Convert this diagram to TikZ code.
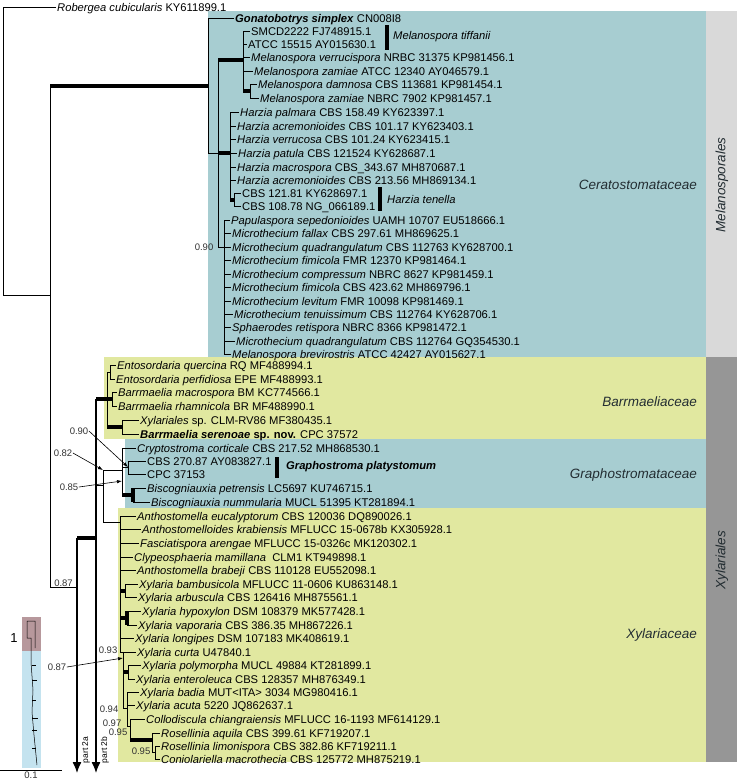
\documentclass[tikz,border=0pt]{standalone}
\usepackage{fontspec}
\setmainfont{Liberation Sans}
\usepackage{xcolor}
\usepackage{tikz}
\usetikzlibrary{arrows.meta, positioning, calc}

\definecolor{cerabox}{RGB}{167,205,209}
\definecolor{xylbox}{RGB}{225,232,160}
\definecolor{melgray}{RGB}{217,217,217}
\definecolor{xylgray}{RGB}{150,150,150}
\definecolor{famtext}{RGB}{35,45,50}
\definecolor{insetred}{RGB}{183,152,156}
\definecolor{insetblue}{RGB}{196,227,239}

\begin{document}
\begin{tikzpicture}[
  x=1pt, y=-1pt,
  >=Latex,
  tip/.style={anchor=west, inner sep=1pt, text height=8pt, text depth=0pt, font=\fontsize{11.2}{13}\selectfont},
  fam/.style={anchor=east, inner sep=0pt, text=famtext, font=\fontsize{13.5}{15}\selectfont\itshape},
  ord/.style={rotate=90, inner sep=0pt, text=famtext, font=\fontsize{13.5}{15}\selectfont\itshape},
  barlab/.style={anchor=west, inner sep=0pt, font=\fontsize{11.2}{13}\selectfont\itshape},
  supp/.style={inner sep=0.5pt, text=black!80, font=\fontsize{9.5}{11}\selectfont},
  partlab/.style={rotate=90, inner sep=0pt, font=\fontsize{8.5}{10}\selectfont},
  br/.style={line width=0.8pt},
  thk/.style={line width=3.8pt},
  cladebar/.style={line width=4pt},
  pointer/.style={-{Latex[length=5pt,width=3.5pt]}, line width=0.6pt},
  cont/.style={-{Latex[length=11pt,width=9pt]}, line width=1.3pt}
]
\useasboundingbox (0,0) rectangle (737,780);

\fill[cerabox] (208,11) rectangle (706,357);
\fill[melgray] (706,11) rectangle (737,357);
\fill[xylbox] (104,357) rectangle (706,439);
\fill[cerabox] (125,439) rectangle (706,508);
\fill[xylbox] (118,508) rectangle (706,762);
\fill[xylgray] (706,357) rectangle (737,762);

\node[fam] (ceratost) at (697,185) {Ceratostomataceae};
\node[fam] (barrmael) at (697,402) {Barrmaeliaceae};
\node[fam] (graphost) at (697,475) {Graphostromataceae};
\node[fam] (xylariac) at (697,635) {Xylariaceae};
\node[ord] (melanosp) at (722,185) {Melanosporales};
\node[ord] (xylarial) at (722,560) {Xylariales};

\node[tip] (robe) at (56,7) {\textit{Robergea cubicularis} KY611899.1};

\node[tip] (gona) at (234,18) {\textbf{\textit{Gonatobotrys simplex}} CN008I8};
\node[tip] (mtif1) at (250,31) {SMCD2222 FJ748915.1};
\node[tip] (mtif2) at (247,44) {ATCC 15515 AY015630.1};
\node[tip] (mverr) at (250,57) {\textit{Melanospora verrucispora} NRBC 31375 KP981456.1};
\node[tip] (mzam1) at (253,71) {\textit{Melanospora zamiae} ATCC 12340 AY046579.1};
\node[tip] (mdamn) at (257,84) {\textit{Melanospora damnosa} CBS 113681 KP981454.1};
\node[tip] (mzam2) at (259,98) {\textit{Melanospora zamiae} NBRC 7902 KP981457.1};
\node[tip] (hpalm) at (239,112) {\textit{Harzia palmara} CBS 158.49 KY623397.1};
\node[tip] (hacr1) at (236,126) {\textit{Harzia acremonioides} CBS 101.17 KY623403.1};
\node[tip] (hverr) at (236,139) {\textit{Harzia verrucosa} CBS 101.24 KY623415.1};
\node[tip] (hpatu) at (237,153) {\textit{Harzia patula} CBS 121524 KY628687.1};
\node[tip] (hmacr) at (236,167) {\textit{Harzia macrospora} CBS\_343.67 MH870687.1};
\node[tip] (hacr2) at (236,180) {\textit{Harzia acremonioides} CBS 213.56 MH869134.1};
\node[tip] (hten1) at (241,193) {CBS 121.81 KY628697.1};
\node[tip] (hten2) at (241,206) {CBS 108.78 NG\_066189.1};
\node[tip] (papu) at (230,220) {\textit{Papulaspora sepedonioides} UAMH 10707 EU518666.1};
\node[tip] (mfall) at (231,233) {\textit{Microthecium fallax} CBS 297.61 MH869625.1};
\node[tip] (mquad1) at (231,247) {\textit{Microthecium quadrangulatum} CBS 112763 KY628700.1};
\node[tip] (mfim1) at (231,260) {\textit{Microthecium fimicola} FMR 12370 KP981464.1};
\node[tip] (mcomp) at (231,274) {\textit{Microthecium compressum} NBRC 8627 KP981459.1};
\node[tip] (mfim2) at (231,287) {\textit{Microthecium fimicola} CBS 423.62 MH869796.1};
\node[tip] (mlevi) at (231,301) {\textit{Microthecium levitum} FMR 10098 KP981469.1};
\node[tip] (mtenu) at (233,314) {\textit{Microthecium tenuissimum} CBS 112764 KY628706.1};
\node[tip] (sreti) at (231,327) {\textit{Sphaerodes retispora} NBRC 8366 KP981472.1};
\node[tip] (mquad2) at (235,341) {\textit{Microthecium quadrangulatum} CBS 112764 GQ354530.1};
\node[tip] (mbrev) at (231,354) {\textit{Melanospora brevirostris} ATCC 42427 AY015627.1};

\node[tip] (equer) at (116,365) {\textit{Entosordaria quercina} RQ MF488994.1};
\node[tip] (eperf) at (115,379) {\textit{Entosordaria perfidiosa} EPE MF488993.1};
\node[tip] (bmacr) at (117,392) {\textit{Barrmaelia macrospora} BM KC774566.1};
\node[tip] (brham) at (117,406) {\textit{Barrmaelia rhamnicola} BR MF488990.1};
\node[tip] (xysp) at (139,420) {\textit{Xylariales} sp. CLM-RV86 MF380435.1};
\node[tip] (bsere) at (139,434) {\textbf{\textit{Barrmaelia serenoae} sp. nov.} CPC 37572};
\node[tip] (ccort) at (136,448) {\textit{Cryptostroma corticale} CBS 217.52 MH868530.1};
\node[tip] (gpla1) at (146,461) {CBS 270.87 AY083827.1};
\node[tip] (gpla2) at (146,474) {CPC 37153};
\node[tip] (bpetr) at (146,488) {\textit{Biscogniauxia petrensis} LC5697 KU746715.1};
\node[tip] (bnumm) at (150,502) {\textit{Biscogniauxia nummularia} MUCL 51395 KT281894.1};
\node[tip] (aeuca) at (136,516) {\textit{Anthostomella eucalyptorum} CBS 120036 DQ890026.1};
\node[tip] (akrab) at (141,529) {\textit{Anthostomelloides krabiensis} MFLUCC 15-0678b KX305928.1};
\node[tip] (faren) at (139,543) {\textit{Fasciatispora arengae} MFLUCC 15-0326c MK120302.1};
\node[tip] (cmami) at (133,557) {\textit{Clypeosphaeria mamillana}\ \ CLM1 KT949898.1};
\node[tip] (abrab) at (136,570) {\textit{Anthostomella brabeji} CBS 110128 EU552098.1};
\node[tip] (xbamb) at (138,584) {\textit{Xylaria bambusicola} MFLUCC 11-0606 KU863148.1};
\node[tip] (xarbu) at (137,597) {\textit{Xylaria arbuscula} CBS 126416 MH875561.1};
\node[tip] (xhypo) at (141,611) {\textit{Xylaria hypoxylon} DSM 108379 MK577428.1};
\node[tip] (xvapo) at (137,625) {\textit{Xylaria vaporaria} CBS 386.35 MH867226.1};
\node[tip] (xlong) at (134,638) {\textit{Xylaria longipes} DSM 107183 MK408619.1};
\node[tip] (xcurt) at (136,652) {\textit{Xylaria curta} U47840.1};
\node[tip] (xpoly) at (141,665) {\textit{Xylaria polymorpha} MUCL 49884 KT281899.1};
\node[tip] (xente) at (135,679) {\textit{Xylaria enteroleuca} CBS 128357 MH876349.1};
\node[tip] (xbadi) at (139,692) {\textit{Xylaria badia} MUT<ITA> 3034 MG980416.1};
\node[tip] (xacut) at (135,705) {\textit{Xylaria acuta} 5220 JQ862637.1};
\node[tip] (cchia) at (145,719) {\textit{Collodiscula chiangraiensis} MFLUCC 16-1193 MF614129.1};
\node[tip] (raqui) at (160,733) {\textit{Rosellinia aquila} CBS 399.61 KF719207.1};
\node[tip] (rlimo) at (160,746) {\textit{Rosellinia limonispora} CBS 382.86 KF719211.1};
\node[tip] (cmacr) at (160,759) {\textit{Coniolariella macrothecia} CBS 125772 MH875219.1};

\coordinate (tiftop) at (387,25);
\coordinate (tifmid) at (387,37);
\coordinate (tifbot) at (387,50);
\draw[cladebar] (tiftop) -- (tifbot);
\node[barlab, right=6pt of tifmid] (tiflab) {Melanospora tiffanii};
\coordinate (tentop) at (380,187);
\coordinate (tenmid) at (380,199);
\coordinate (tenbot) at (380,211);
\draw[cladebar] (tentop) -- (tenbot);
\node[barlab, right=7pt of tenmid] (tenlab) {Harzia tenella};
\coordinate (plattop) at (277,457);
\coordinate (platmid) at (277,467);
\coordinate (platbot) at (277,478);
\draw[cladebar] (plattop) -- (platbot);
\node[barlab, right=9pt of platmid, font=\fontsize{11.2}{13}\selectfont\bfseries\itshape] (platlab) {Graphostroma platystomum};

\coordinate (root) at (3,295);
\coordinate (ingr) at (50,295);
\coordinate (cer) at (208,86);
\coordinate (x0) at (77,587);
\draw[br] (robe.west) -| (root) -- (ingr);
\draw[br] (ingr |- cer) -- (ingr |- x0) -- (x0) node[midway, above, supp] (s087a) {0.87};
\draw[thk] (ingr |- cer) -- (cer);

\coordinate (n1) at (218,153);
\coordinate (mel) at (243,60);
\coordinate (md) at (250,91);
\coordinate (har) at (230,153);
\coordinate (ht) at (234,200);
\coordinate (mic) at (224,247);
\draw[br] (gona.west) -| (cer |- n1) -- (n1);
\draw[br] (n1 |- mel) -- (n1 |- mic) -- (mic);
\node[supp, anchor=east] (s090a) at (214,247) {0.90};
\draw[thk] (n1 |- mel) -- (mel);
\draw[thk] (n1) -- (har);
\draw[br] (mel |- mtif1.west) -- (mel |- md);
\foreach \tp in {mtif1, mtif2, mverr, mzam1} \draw[br] (mel |- \tp.west) -- (\tp.west);
\draw[thk] (mel |- md) -- (md);
\draw[br] (md |- mdamn.west) -- (md |- mzam2.west);
\foreach \tp in {mdamn, mzam2} \draw[br] (md |- \tp.west) -- (\tp.west);
\draw[br] (har |- hpalm.west) -- (har |- ht);
\foreach \tp in {hpalm, hacr1, hverr, hpatu, hmacr, hacr2} \draw[br] (har |- \tp.west) -- (\tp.west);
\draw[thk] (har |- ht) -- (ht);
\draw[br] (ht |- hten1.west) -- (ht |- hten2.west);
\foreach \tp in {hten1, hten2} \draw[br] (ht |- \tp.west) -- (\tp.west);
\draw[br] (mic |- papu.west) -- (mic |- mbrev.west);
\foreach \tp in {papu, mfall, mquad1, mfim1, mcomp, mfim2, mlevi, mtenu, sreti, mquad2, mbrev} \draw[br] (mic |- \tp.west) -- (\tp.west);

\coordinate (x1) at (96,538);
\coordinate (p2a) at (77,773);
\coordinate (p2b) at (96,773);
\coordinate (barr) at (107,399);
\coordinate (ent) at (110,372);
\coordinate (bm) at (112,399);
\coordinate (ser) at (122,427);
\coordinate (gx) at (103,485);
\coordinate (gr) at (122,470);
\coordinate (cc) at (128,467);
\coordinate (bis) at (133,495);
\coordinate (xy) at (120,522);
\coordinate (bx) at (125,591);
\coordinate (hx) at (127,618);
\coordinate (n93) at (123,652);
\coordinate (px) at (128,672);
\coordinate (n94) at (127,708);
\coordinate (n97) at (130,726);
\coordinate (ros) at (152,740);
\coordinate (rb) at (155,752);

\draw[cont] (x0 |- x1) -- (p2a);
\draw[thk] (x0 |- x1) -- (x1);
\draw[cont] (x1 |- barr) -- (p2b);
\draw[thk] (x1 |- barr) -- (bm);
\draw[br] (barr |- ent) -- (barr |- ser);
\draw[br] (barr |- ent) -- (ent);
\draw[thk] (barr |- ser) -- (ser);
\draw[br] (ent |- equer.west) -- (ent |- eperf.west);
\foreach \tp in {equer, eperf} \draw[br] (ent |- \tp.west) -- (\tp.west);
\draw[br] (bm |- bmacr.west) -- (bm |- brham.west);
\foreach \tp in {bmacr, brham} \draw[br] (bm |- \tp.west) -- (\tp.west);
\draw[br] (ser |- xysp.west) -- (ser |- bsere.west);
\foreach \tp in {xysp, bsere} \draw[br] (ser |- \tp.west) -- (\tp.west);

\draw[br] (x1 |- gx) -- (gx);
\draw[br] (gx |- gr) -- (gx |- xy) -- (xy);
\draw[br] (gx |- gr) -- (gr);
\draw[br] (gr |- ccort.west) -- (gr |- bis);
\draw[br] (gr |- ccort.west) -- (ccort.west);
\draw[br] (gr |- cc) -- (cc);
\draw[thk] (gr |- bis) -- (bis);
\draw[br] (cc |- gpla1.west) -- (cc |- gpla2.west);
\foreach \tp in {gpla1, gpla2} \draw[br] (cc |- \tp.west) -- (\tp.west);
\draw[thk] (bis |- bpetr.west) -- (bis |- bnumm.west);
\foreach \tp in {bpetr, bnumm} \draw[br] (bis |- \tp.west) -- (\tp.west);

\draw[br] (xy |- aeuca.west) -- (xy |- n93) -- (n93);
\foreach \tp in {aeuca, akrab, faren, cmami, abrab, xlong} \draw[br] (xy |- \tp.west) -- (\tp.west);
\draw[thk] (xy |- bx) -- (bx);
\draw[br] (bx |- xbamb.west) -- (bx |- xarbu.west);
\foreach \tp in {xbamb, xarbu} \draw[br] (bx |- \tp.west) -- (\tp.west);
\draw[thk] (xy |- hx) -- (hx);
\draw[thk] (hx |- xhypo.west) -- (hx |- xvapo.west);
\foreach \tp in {xhypo, xvapo} \draw[br] (hx |- \tp.west) -- (\tp.west);
\node[supp, anchor=east] (s093) at (118,650) {0.93};
\draw[br] (n93) -- (n93 |- n94) -- (n94);
\draw[br] (n93) -- (xcurt.west);
\draw[thk] (n93 |- px) -- (px);
\draw[br] (px |- xpoly.west) -- (px |- xente.west);
\foreach \tp in {xpoly, xente} \draw[br] (px |- \tp.west) -- (\tp.west);
\node[supp, anchor=east] (s094) at (119,709) {0.94};
\draw[br] (n94 |- xbadi.west) -- (n94 |- n97) -- (n97);
\foreach \tp in {xbadi, xacut} \draw[br] (n94 |- \tp.west) -- (\tp.west);
\node[supp, anchor=east] (s097) at (122,723) {0.97};
\draw[br] (n97 |- cchia.west) -- (n97 |- ros);
\draw[br] (n97 |- cchia.west) -- (cchia.west);
\draw[thk] (n97 |- ros) -- (ros);
\node[supp, anchor=east] (s095a) at (128,732) {0.95};
\draw[br] (ros |- raqui.west) -- (ros |- rb) -- (rb);
\draw[br] (ros |- raqui.west) -- (raqui.west);
\node[supp, anchor=east] (s095b) at (151,751) {0.95};
\draw[br] (rb |- rlimo.west) -- (rb |- cmacr.west);
\foreach \tp in {rlimo, cmacr} \draw[br] (rb |- \tp.west) -- (\tp.west);

\coordinate (gr85) at (122,481);
\coordinate (n87) at (123,658);
\node[supp] (s090b) at (79,431) {0.90};
\draw[pointer] (s090b.east) -- (cc);
\node[supp] (s082) at (63,453) {0.82};
\draw[pointer] (s082.east) -- (gx |- gr);
\node[supp] (s085) at (69,487) {0.85};
\draw[pointer] (s085.east) -- (gr85);
\node[supp] (s087b) at (57,667) {0.87};
\draw[pointer] (s087b.east) -- (n87);

\node[partlab] (lab2a) at (86,750) {part 2a};
\node[partlab] (lab2b) at (105,750) {part 2b};

\node[font=\fontsize{13}{15}\selectfont, inner sep=0pt] (partone) at (14,638) {1};
\fill[insetred] (22,617) rectangle (41,651);
\fill[insetblue] (22,651) rectangle (41,768);
\draw[line width=0.5pt] (27,621) -- (35,621) -- (35,648) (27,621) -- (27,638) -- (31,638)
  -- (31,662) -- (33,690) -- (32,712) -- (34,735) -- (37,765);
\foreach \yy/\dx in {665/4, 680/5, 700/4, 718/6, 730/5, 748/4}
  \draw[line width=0.4pt] (32,\yy) -- ++(\dx,0);

\coordinate (sbl) at (0,770);
\coordinate (sbr) at (62,770);
\draw[br] (sbl) -- (sbr) node[midway, below, supp, inner sep=1.5pt] (sblab) {0.1};
\end{tikzpicture}
\end{document}
